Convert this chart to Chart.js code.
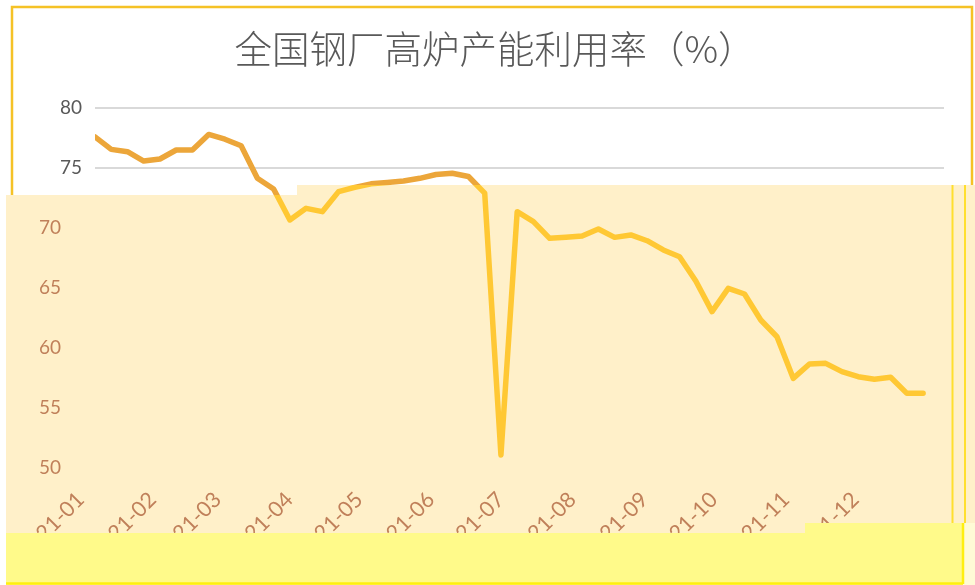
<!DOCTYPE html>
<html><head><meta charset="utf-8">
<script src="https://cdn.jsdelivr.net/npm/chart.js@4.4.1/dist/chart.umd.min.js"></script>
<style>html,body{margin:0;padding:0;background:#fff;}canvas{display:block;}</style>
</head><body>
<canvas id="c" width="975" height="585"></canvas>
<script>
// ---- data ----
const title = '全国钢厂高炉产能利用率（%）';
const weekDates = [
 '2021-01-08','2021-01-15','2021-01-22','2021-01-29',
 '2021-02-05','2021-02-12','2021-02-19','2021-02-26',
 '2021-03-05','2021-03-12','2021-03-19','2021-03-26',
 '2021-04-02','2021-04-09','2021-04-16','2021-04-23','2021-04-30',
 '2021-05-07','2021-05-14','2021-05-21','2021-05-28',
 '2021-06-04','2021-06-11','2021-06-18','2021-06-25',
 '2021-07-02','2021-07-09','2021-07-16','2021-07-23','2021-07-30',
 '2021-08-06','2021-08-13','2021-08-20','2021-08-27',
 '2021-09-03','2021-09-10','2021-09-17','2021-09-24',
 '2021-10-01','2021-10-08','2021-10-15','2021-10-22','2021-10-29',
 '2021-11-05','2021-11-12','2021-11-19','2021-11-26',
 '2021-12-03','2021-12-10','2021-12-17','2021-12-24','2021-12-31'
];
const utilization = [
 77.6, 76.55, 76.36, 75.58, 75.75, 76.5, 76.5, 77.8, 77.4, 76.86, 74.14, 73.25,
 70.67, 71.64, 71.36, 73.03, 73.39,
 73.68, 73.79, 73.92, 74.14, 74.46, 74.56, 74.29,
 72.9, 51.08,
 71.36, 70.53, 69.14, 69.22, 69.33, 69.92, 69.22, 69.42, 68.94, 68.17, 67.61,
 65.58, 63.03, 64.97, 64.5, 62.33, 60.94, 57.47, 58.67, 58.72, 58.03, 57.61, 57.39, 57.56, 56.22, 56.22
];
const monthLabels = ['2021-01','2021-02','2021-03','2021-04','2021-05','2021-06',
                     '2021-07','2021-08','2021-09','2021-10','2021-11','2021-12'];
const monthStarts = ['2021-01-01','2021-02-01','2021-03-01','2021-04-01','2021-05-01','2021-06-01',
                     '2021-07-01','2021-08-01','2021-09-01','2021-10-01','2021-11-01','2021-12-01'];
const yMin = 50, yMax = 80, yStep = 5;

// ---- helpers ----
function dayOfYear(s){ const [y,m,d]=s.split('-').map(Number); return (Date.UTC(y,m-1,d)-Date.UTC(2021,0,1))/86400000; }
const points = weekDates.map((d,i)=>({x: dayOfYear(d), y: utilization[i]}));
const monthDays = monthStarts.map(dayOfYear);

const W = 975, H = 585;
function addOverlay(c){
  c.moveTo(6,195); c.lineTo(297,195); c.lineTo(297,185); c.lineTo(W,185);
  c.lineTo(W,H); c.lineTo(6,H); c.closePath();
}
const paper = {
  id:'paper',
  beforeDraw(chart){
    const c = chart.ctx; c.save();
    c.fillStyle = '#ffffff'; c.fillRect(0,0,W,H);
    c.strokeStyle = '#f5c226'; c.lineWidth = 2.5; c.strokeRect(12,7,960,300);
    c.beginPath(); addOverlay(c); c.fillStyle = '#fff0c9'; c.fill();
    c.strokeStyle = '#ffdf2e'; c.lineWidth = 2;
    c.beginPath(); c.moveTo(952.5,185); c.lineTo(952.5,523); c.moveTo(965,185); c.lineTo(965,523); c.stroke();
    c.restore();
  },
  beforeDatasetDraw(chart,args){
    const c = chart.ctx; c.save(); c.beginPath();
    if (args.index === 0) { c.rect(0,0,W,H); addOverlay(c); c.clip('evenodd'); }
    else { addOverlay(c); c.clip(); }
  },
  afterDatasetDraw(chart){ chart.ctx.restore(); },
  afterDraw(chart){
    const c = chart.ctx; c.save();
    c.fillStyle = '#fffbd6'; c.fillRect(963,523,W-963,H-523);
    c.beginPath(); c.moveTo(6,533); c.lineTo(805,533); c.lineTo(805,523); c.lineTo(963,523);
    c.lineTo(963,H); c.lineTo(6,H); c.closePath();
    c.fillStyle = '#fffa8a'; c.fill();
    c.strokeStyle = '#ffef10'; c.lineWidth = 2.5;
    c.beginPath(); c.moveTo(6,583.5); c.lineTo(963,583.5); c.moveTo(963,523); c.lineTo(963,584); c.stroke();
    c.restore();
  }
};

new Chart(document.getElementById('c'), {
  type: 'line',
  data: { datasets: [
    { data: points, borderColor:'#eca63a', borderWidth:5.5, pointRadius:0, tension:0, borderJoinStyle:'round', borderCapStyle:'round' },
    { data: points, borderColor:'#ffc834', borderWidth:5.5, pointRadius:0, tension:0, borderJoinStyle:'round', borderCapStyle:'round' }
  ]},
  options: {
    responsive:false, animation:false, events:[],
    layout:{ padding:{ left:46, right:31, top:0, bottom:0 } },
    plugins:{
      legend:{display:false}, tooltip:{enabled:false},
      title:{ display:true, text:title, color:'#595959',
        font:{ family:'"Noto Sans CJK SC", sans-serif', size:37.5, weight:300, lineHeight:1.2 },
        padding:{ top:26, bottom:37 } }
    },
    scales:{
      x:{ type:'linear', min:7, max:373,
        afterBuildTicks: s => { s.ticks = monthDays.map(v=>({value:v})); },
        afterFit: s => { s.height = 117; },
        grid:{display:false}, border:{display:false},
        ticks:{ autoSkip:false, minRotation:45, maxRotation:45, padding:11, labelOffset:2, color:'#c0805a',
          font:{family:'Lato, sans-serif', size:21.5},
          callback:(v,i)=>monthLabels[i] } },
      y:{ position:'left', weight:0, min:yMin, max:yMax,
        afterFit: s => { s.width = 39; },
        border:{display:false},
        grid:{ drawTicks:false, lineWidth:2, color: ctx => (ctx.tick && ctx.tick.value >= 75) ? '#d9d9d9' : 'rgba(0,0,0,0)' },
        ticks:{ stepSize:yStep, padding:13, font:{family:'Lato, sans-serif', size:19},
          color: ctx => (ctx.tick && ctx.tick.value >= 75) ? '#595959' : 'rgba(0,0,0,0)' } },
      y2:{ position:'left', weight:1, min:yMin, max:yMax,
        afterFit: s => { s.width = 10; },
        grid:{display:false}, border:{display:false},
        ticks:{ stepSize:yStep, mirror:true, crossAlign:'far', padding:-17, font:{family:'Lato, sans-serif', size:19},
          color: ctx => (ctx.tick && ctx.tick.value < 75) ? '#c0805a' : 'rgba(0,0,0,0)' } }
    }
  },
  plugins:[paper]
});
</script>
</body></html>
